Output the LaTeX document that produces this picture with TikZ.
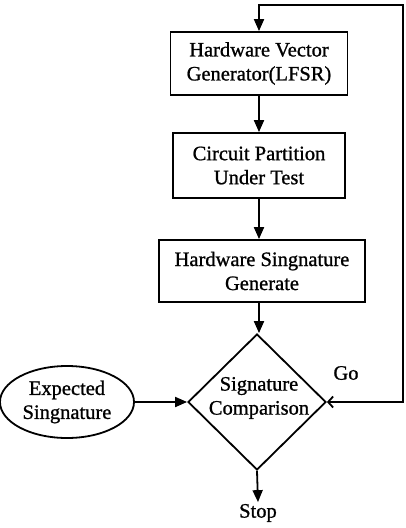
\documentclass[tikz,border=0pt]{standalone}
\usepackage{fontspec}
\setmainfont[FakeBold=1.0]{Liberation Serif}
\usetikzlibrary{arrows.meta,shapes.geometric}
\begin{document}
\begin{tikzpicture}[x=1pt, y=1pt, line width=1.8pt,
  font=\fontsize{20.5}{24}\selectfont,
  procbox/.style={draw, rectangle, align=center, inner sep=0pt},
  flow/.style={-{Triangle[length=12pt,width=10pt]}},
  txt/.style={inner sep=1pt}]
\useasboundingbox (0,0) rectangle (405,-528);

% process chain
\node[procbox, minimum width=177pt, minimum height=63pt] (gen) at (259,-63.5)
  {Hardware Vector\\Generator(LFSR)};
\node[procbox, minimum width=172pt, minimum height=65pt] (cut) at (259,-165.5)
  {Circuit Partition\\Under Test};
\node[procbox, minimum width=206pt, minimum height=62pt] (sig) at (262,-271)
  {Hardware Singnature\\Generate};

% decision
\node[draw, diamond, minimum width=138pt, minimum height=136pt, inner sep=0pt] (cmp) at (257,-402) {};
\node[align=center, txt] (cmptxt) at (259,-398) {Signature\\Comparison};

% reference input
\node[draw, ellipse, minimum width=134pt, minimum height=72pt, inner sep=0pt, align=center] (exp) at (67,-402)
  {Expected\\Singnature};

% labels
\node[txt] (stop) at (258,-513) {Stop};
\node[txt] (go) at (346,-373) {Go};

% connectors
\draw[flow] (gen) -- (cut);
\draw[flow] (cut) -- (sig.north -| cut.south);
\draw[flow] (sig.south -| cut.south) -- (cmp.north -| cut.south);
\draw[flow] (exp.east) -- (cmp.west);
\draw[flow] (cmp.south) -- (stop.north);

% feedback loop
\coordinate (loopbr) at (403,-402);
\coordinate (looptr) at (403,-5);
\draw[{Straight Barb[length=5pt,width=11pt]}-{Triangle[length=12pt,width=10pt]}]
  (cmp.east) -- (loopbr) -- (looptr) -- (looptr -| gen.north) -- (gen.north);
\end{tikzpicture}
\end{document}
